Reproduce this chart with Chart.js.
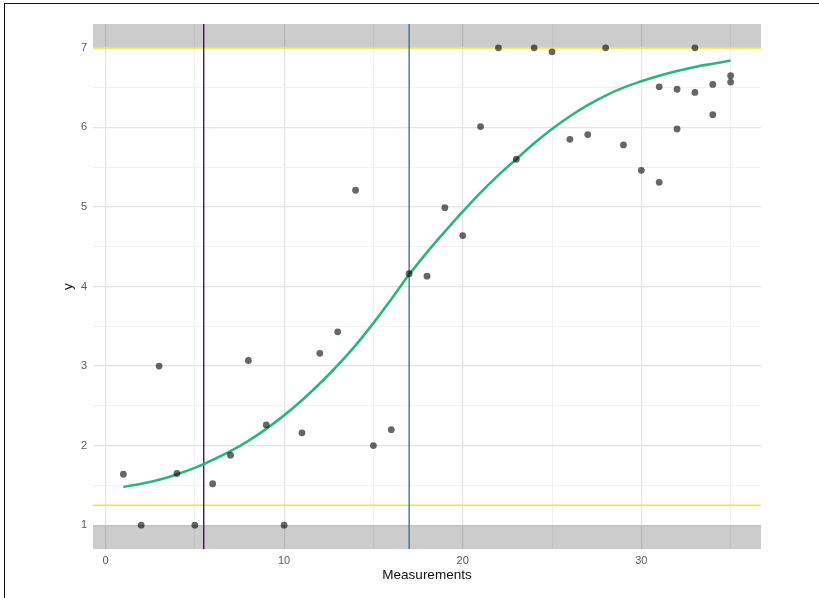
<!DOCTYPE html>
<html>
<head>
<meta charset="utf-8">
<script src="https://cdn.jsdelivr.net/npm/chart.js@4/dist/chart.umd.min.js"></script>
<style>
  html, body { margin: 0; padding: 0; background: #ffffff; }
  #wrap { position: relative; width: 819px; height: 598px; overflow: hidden; }
  #frame { position: absolute; left: 4px; top: 3px; right: -10px; bottom: -10px;
           border-top: 1.5px solid #111; border-left: 1.5px solid #111; pointer-events: none; }
  canvas { position: absolute; left: 0; top: 0; }
</style>
</head>
<body>
<div id="wrap">
  <canvas id="c" width="819" height="598"></canvas>
  <div id="frame"></div>
</div>
<script>
// ---- data ----
const pointX = [1, 2, 3, 4, 5, 6, 7, 8, 9, 10, 11, 12, 13, 14, 15, 16, 17, 18, 19, 20,
                21, 22, 23, 24, 25, 26, 27, 28, 29, 30, 31, 31, 32, 32, 33, 33, 34, 34, 35, 35];
const pointY = [1.64, 1.00, 3.00, 1.65, 1.00, 1.52, 1.88, 3.07, 2.26, 1.00, 2.16, 3.16, 3.43, 5.21, 2.00, 2.20, 4.16, 4.13, 4.99, 4.64,
                6.01, 7.00, 5.60, 7.00, 6.95, 5.85, 5.91, 7.00, 5.78, 5.46, 6.51, 5.31, 6.48, 5.98, 7.00, 6.44, 6.54, 6.16, 6.65, 6.57];

const curveX = [1, 2, 3, 4, 5, 6, 7, 8, 9, 10, 11, 12, 13, 14, 15, 16, 17, 18,
                19, 20, 21, 22, 23, 24, 25, 26, 27, 28, 29, 30, 31, 32, 33, 34, 35];
const curveY = [1.48, 1.52, 1.57, 1.64, 1.72, 1.82, 1.93, 2.06, 2.21, 2.38, 2.57, 2.78, 3.01, 3.26, 3.54, 3.84, 4.15, 4.43,
                4.69, 4.94, 5.18, 5.40, 5.60, 5.80, 5.98, 6.14, 6.28, 6.40, 6.50, 6.58, 6.65, 6.71, 6.76, 6.80, 6.84];

const vLineLow = 5.5;     // purple vertical line
const vLineMid = 17;      // blue vertical line
const hLineTop = 7;       // yellow line, upper
const hLineLow = 1.25;    // yellow line, lower
const bandTop = [7, 7.3];
const bandLow = [0.7, 1];

const xRange = [-0.7, 36.7];
const yRange = [0.7, 7.3];
const xGrid = [0, 5, 10, 15, 20, 25, 30, 35];
const xLabels = [0, 10, 20, 30];
const yGrid = [1, 1.5, 2, 2.5, 3, 3.5, 4, 4.5, 5, 5.5, 6, 6.5, 7];
const yLabels = [1, 2, 3, 4, 5, 6, 7];

const xTitle = 'Measurements';
const yTitle = 'y';

// ---- chart ----
const FONT = '"Liberation Sans", Arial, Helvetica, sans-serif';
const pts = pointX.map((x, i) => ({ x: x, y: pointY[i] }));
const curve = curveX.map((x, i) => ({ x: x, y: curveY[i] }));

const lineDs = (data, color, width, order, extra) => Object.assign({
  type: 'line', data: data, borderColor: color, borderWidth: width,
  pointRadius: 0, fill: false, tension: 0, order: order
}, extra || {});

new Chart(document.getElementById('c'), {
  type: 'scatter',
  data: {
    datasets: [
      { data: pts, backgroundColor: 'rgba(0,0,0,0.6)', borderColor: 'rgba(0,0,0,0)',
        borderWidth: 0, pointRadius: 3.4, order: 0 },
      lineDs(curve, '#2eb47c', 2.6, 1, { tension: 0.4 }),
      lineDs([{ x: vLineMid, y: yRange[0] }, { x: vLineMid, y: yRange[1] }], '#31688e', 1.3, 2),
      lineDs([{ x: vLineLow, y: yRange[0] }, { x: vLineLow, y: yRange[1] }], '#440154', 1.3, 2),
      lineDs([{ x: xRange[0], y: hLineTop }, { x: xRange[1], y: hLineTop }], '#fde725', 1.6, 3),
      lineDs([{ x: xRange[0], y: hLineLow }, { x: xRange[1], y: hLineLow }], '#fde725', 1.6, 3),
      lineDs([{ x: xRange[0], y: bandTop[1] }, { x: xRange[1], y: bandTop[1] }], 'rgba(0,0,0,0)', 0, 4,
             { fill: { value: bandTop[0] }, backgroundColor: 'rgba(0,0,0,0.2)' }),
      lineDs([{ x: xRange[0], y: bandLow[0] }, { x: xRange[1], y: bandLow[0] }], 'rgba(0,0,0,0)', 0, 4,
             { fill: { value: bandLow[1] }, backgroundColor: 'rgba(0,0,0,0.2)' })
    ]
  },
  options: {
    responsive: false,
    animation: false,
    layout: { padding: { left: 0, right: 58, top: 24, bottom: 0 } },
    plugins: { legend: { display: false }, tooltip: { enabled: false } },
    scales: {
      x: {
        type: 'linear', min: xRange[0], max: xRange[1],
        afterBuildTicks: s => { s.ticks = xGrid.map(v => ({ value: v })); },
        afterFit: s => { s.height = 49; },
        border: { display: false },
        grid: {
          drawTicks: false,
          color: ctx => xLabels.includes(ctx.tick && ctx.tick.value) ? '#e4e4e4' : '#f0f0f0',
          lineWidth: ctx => xLabels.includes(ctx.tick && ctx.tick.value) ? 1.2 : 0.9
        },
        ticks: {
          padding: 5, color: '#5a5a5a', font: { family: FONT, size: 11 },
          maxRotation: 0, autoSkip: false,
          callback: v => xLabels.includes(v) ? String(v) : ''
        },
        title: { display: true, text: xTitle, color: '#111', font: { family: FONT, size: 13.5 },
                 padding: { top: 0, bottom: 15 } }
      },
      y: {
        type: 'linear', min: yRange[0], max: yRange[1],
        afterBuildTicks: s => { s.ticks = yGrid.map(v => ({ value: v })); },
        afterFit: s => { s.width = 93; },
        border: { display: false },
        grid: {
          drawTicks: false,
          color: ctx => yLabels.includes(ctx.tick && ctx.tick.value) ? '#e4e4e4' : '#f0f0f0',
          lineWidth: ctx => yLabels.includes(ctx.tick && ctx.tick.value) ? 1.2 : 0.9
        },
        ticks: {
          padding: 6, color: '#5a5a5a', font: { family: FONT, size: 11 },
          autoSkip: false,
          callback: v => yLabels.includes(v) ? String(v) : ''
        },
        title: { display: true, text: yTitle, color: '#111', font: { family: FONT, size: 13.5 },
                 padding: { top: 60, bottom: 0 } }
      }
    }
  }
});
</script>
</body>
</html>
